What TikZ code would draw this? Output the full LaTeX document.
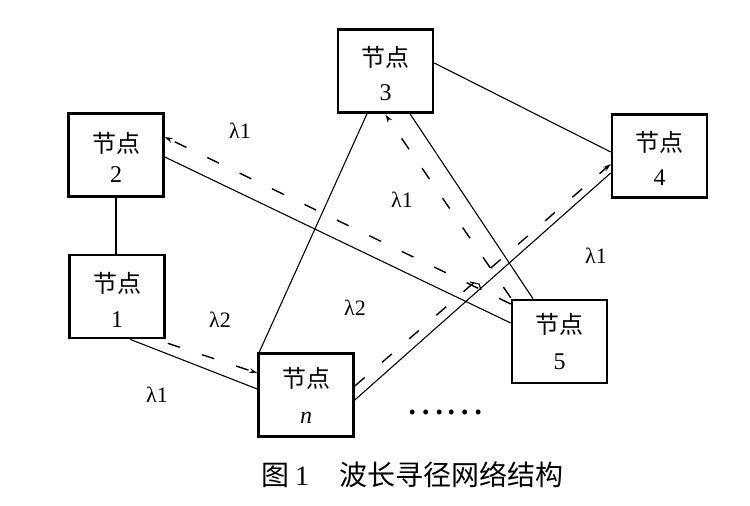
\documentclass[tikz,border=0pt]{standalone}
\usepackage{fontspec}
\setmainfont{Liberation Serif}
\newfontfamily\cjk{Noto Sans CJK SC}
\usetikzlibrary{arrows.meta,calc}
\begin{document}
\begin{tikzpicture}[x=1pt,y=-1pt,
 box/.style={draw,line width=2.6pt,minimum width=95pt,minimum height=83pt,inner sep=0pt},
 lbl/.style={font=\fontsize{24}{24}\selectfont,inner sep=0pt},
 lam/.style={font=\fontsize{22}{22}\selectfont,inner sep=0pt},
 link/.style={line width=1.1pt},
 route/.style={line width=1.4pt,dash pattern=on 13pt off 23pt,-{Stealth[length=8pt,width=5pt]}},
]
\useasboundingbox (0,0) rectangle (750,506);
% boxes
\node[box] (n2) at (116,155) {};
\node[box] (n1) at (117,296.5) {};
\node[box] (n3) at (385.5,71) {};
\node[box] (n4) at (659.5,156) {};
\node[box] (n5) at (559.5,341.5) {};
\node[box] (nn) at (306,395) {};
% box texts
\node[lbl] (n2a) at ($(n2)+(0,-12)$) {\cjk 节点};
\node[lbl] (n2b) at ($(n2)+(0,20)$) {2};
\node[lbl] (n1a) at ($(n1)+(0,-13.5)$) {\cjk 节点};
\node[lbl] (n1b) at ($(n1)+(0,23)$) {1};
\node[lbl] (n3a) at ($(n3)+(0,-14)$) {\cjk 节点};
\node[lbl] (n3b) at ($(n3)+(0,22)$) {3};
\node[lbl] (n4a) at ($(n4)+(0,-14)$) {\cjk 节点};
\node[lbl] (n4b) at ($(n4)+(0,22)$) {4};
\node[lbl] (n5a) at ($(n5)+(0,-17)$) {\cjk 节点};
\node[lbl] (n5b) at ($(n5)+(0,20.5)$) {5};
\node[lbl] (nna) at ($(nn)+(0,-17)$) {\cjk 节点};
\node[lbl] (nnb) at ($(nn)+(0,23)$) {\itshape n};
% solid links
\draw[link] (n2.south) -- (n2.south |- n1.north);
\draw[link] ($(n3.east)+(0,-8)$) -- ($(n4.west)+(0,-4)$);
\draw[link] ($(n2.east)+(0,2)$) -- ($(n5.west)+(0,-18.5)$);
\draw[link] ($(n3.south)+(24.5,0)$) -- ($(n5.north)+(-26.5,0)$);
\draw[link] ($(nn.north west)+(2,0)$) -- ($(n3.south)+(-18.5,0)$);
\draw[link] ($(n1.south)+(13,0)$) -- ($(nn.west)+(0,-6)$);
\draw[link] ($(nn.east)+(0,5)$) -- ($(n4.west)+(0,17)$);
% dashed routes
\draw[route] ($(n5.west)+(0,-37.5)$) -- ($(n2.east)+(0,-18)$);
\draw[route] ($(n5.north west)+(0,-1)$) -- ($(n3.south)+(0,1)$);
\draw[route] ($(n1.south east)+(2,4)$) -- ($(nn.west)+(0,-22)$);
\draw[route] ($(nn.east)+(0,-9)$) -- ($(n4.west)+(0,8)$);
\draw[link] (470,282) -- (479,284) -- (481,290);
% wavelength labels
\node[lam] (l1) at (240,131) {λ1};
\node[lam] (l2) at (402,200) {λ1};
\node[lam] (l3) at (596,256) {λ1};
\node[lam] (l4) at (220,320) {λ2};
\node[lam] (l5) at (355,308) {λ2};
\node[lam] (l6) at (157,395) {λ1};
% dots
\node[inner sep=0pt] (dots) at (445,412) {\cjk\fontsize{36}{36}\selectfont ……};
% caption
\node[inner sep=0pt] (cap) at (412,475) {\fontsize{28}{28}\selectfont{\cjk 图}\hspace{6pt}1\hspace{30pt}{\cjk 波长寻径网络结构}};
\end{tikzpicture}
\end{document}
